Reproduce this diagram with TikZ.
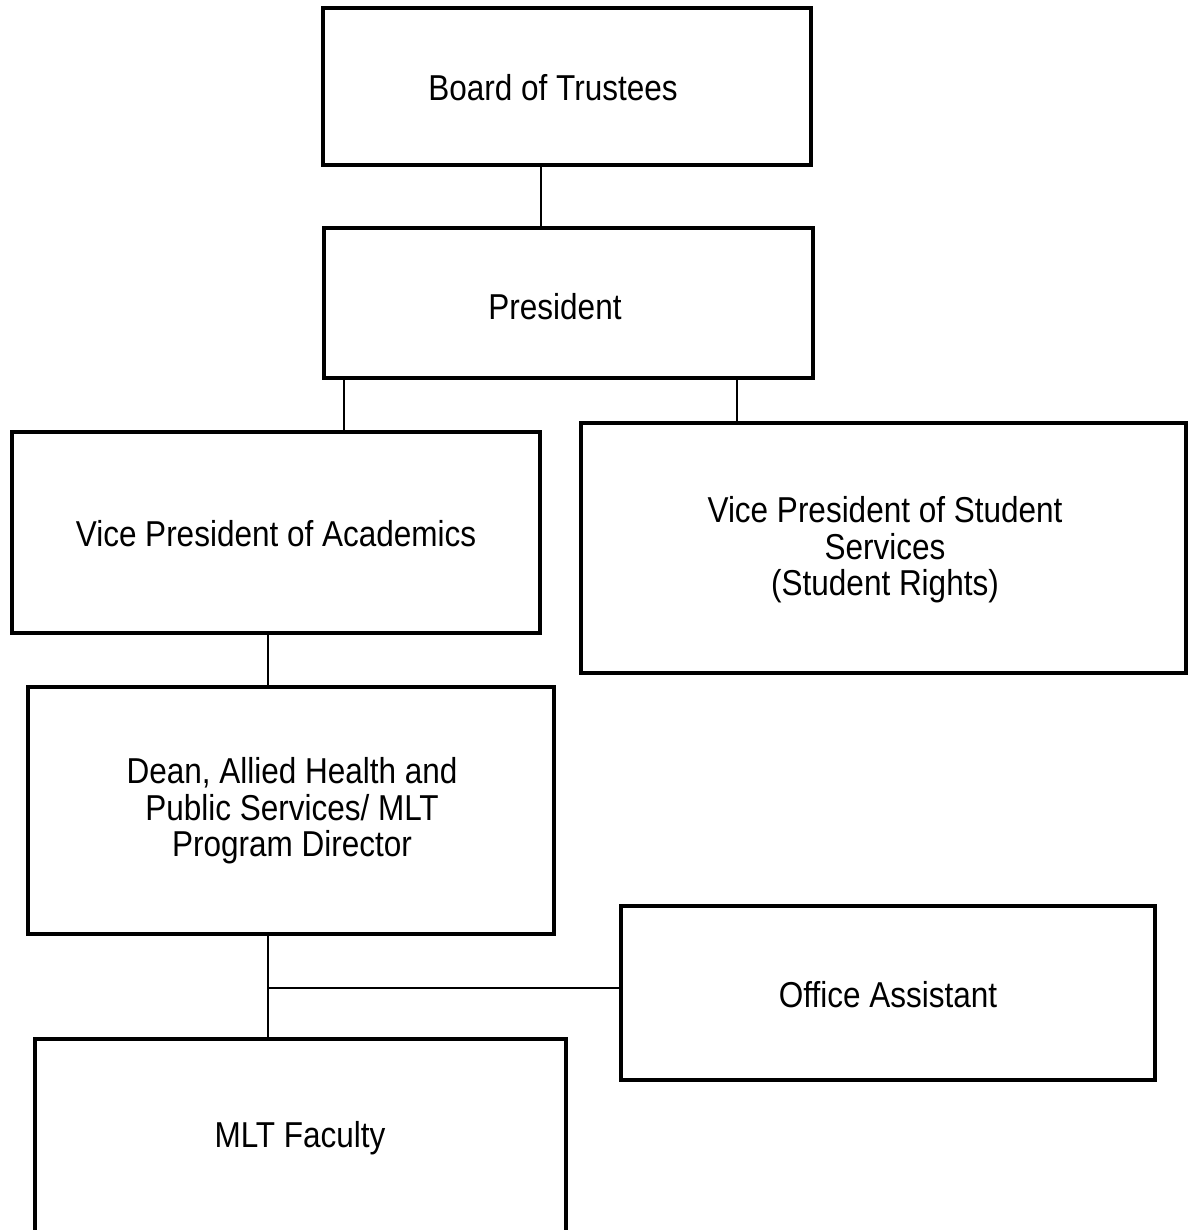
\documentclass[tikz,border=0pt]{standalone}
\usepackage{fontspec}
\setmainfont{Liberation Sans}[FakeStretch=0.875]
\begin{document}
\begin{tikzpicture}[x=1pt,y=-1pt,
  box/.style={draw,line width=3.5pt,rectangle,inner sep=0pt},
  lbl/.style={align=center,inner sep=0pt,font=\fontsize{36}{36.5}\selectfont},
  conn/.style={line width=1.5pt}]
\clip (0,0) rectangle (1193,1230);
\fill[white] (0,0) rectangle (1193,1230);
% boxes (centres, sizes)
\node[box,minimum width=488pt,minimum height=157pt] (bot)  at (567,86.5) {};
\node[box,minimum width=489pt,minimum height=150pt] (pres) at (568.5,303) {};
\node[box,minimum width=528pt,minimum height=201pt] (vpa)  at (276,532.5) {};
\node[box,minimum width=605pt,minimum height=250pt] (vpss) at (883.5,548) {};
\node[box,minimum width=526pt,minimum height=247pt] (dean) at (291,810.5) {};
\node[box,minimum width=534pt,minimum height=174pt] (oa)   at (888,993) {};
\node[box,minimum width=531pt,minimum height=262pt] (mlt)  at (300.5,1170) {};
% texts
\node[lbl] (botT)  at (553,88)  {Board of Trustees};
\node[lbl] (presT) at (555,307) {President};
\node[lbl] (vpaT)  at (276,534) {Vice President of Academics};
\node[lbl] (vpssT) at (885,550) {Vice President of Student\\Services\\(Student Rights)};
\node[lbl] (deanT) at (292,811) {Dean, Allied Health and\\Public Services/ MLT\\Program Director};
\node[lbl] (oaT)   at (888,995) {Office Assistant};
\node[lbl] (mltT)  at (300,1138) {MLT Faculty};
% connector x positions
\coordinate (x1) at (541,0);
\coordinate (x2) at (344,0);
\coordinate (x3) at (737,0);
\coordinate (x4) at (268,0);
\coordinate (jn) at (268,988);
\draw[conn] (bot.south -| x1) -- (pres.north -| x1);
\draw[conn] (pres.south -| x2) -- (vpa.north -| x2);
\draw[conn] (pres.south -| x3) -- (vpss.north -| x3);
\draw[conn] (vpa.south -| x4) -- (dean.north -| x4);
\draw[conn] (dean.south -| x4) -- (mlt.north -| x4);
\draw[conn] (jn) -- (oa.west |- jn);
\end{tikzpicture}
\end{document}
